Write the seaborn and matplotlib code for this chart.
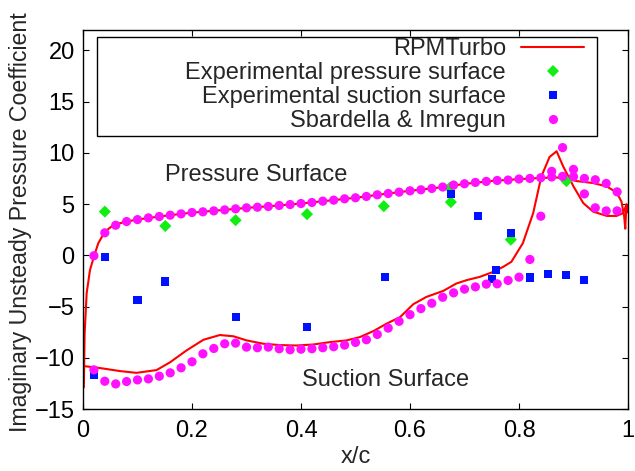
import numpy as np
import pandas as pd
import matplotlib
matplotlib.use("Agg")
import matplotlib.pyplot as plt
from matplotlib.lines import Line2D
from matplotlib.patches import Rectangle
import seaborn as sns

# RPMTurbo prediction, pressure side (leading edge -> trailing edge)
rpm_ps_x = [0.0015, 0.003, 0.0067, 0.0128, 0.020, 0.028, 0.040, 0.056, 0.080, 0.10,
            0.15, 0.20, 0.25, 0.30, 0.35, 0.40, 0.45, 0.50, 0.55, 0.60, 0.65, 0.70,
            0.75, 0.80, 0.84, 0.87, 0.89, 0.906, 0.936, 0.961, 0.979, 0.988, 0.993,
            0.995, 0.997, 1.0]
rpm_ps_y = [-12.9, -7.6, -3.7, -1.44, -0.13, 1.18, 2.3, 2.97, 3.3, 3.5,
            3.86, 4.17, 4.4, 4.63, 4.83, 5.06, 5.34, 5.62, 5.97, 6.3, 6.6, 6.97,
            7.26, 7.44, 7.56, 7.6, 7.45, 7.25, 7.06, 6.73, 6.14, 5.25, 3.79,
            2.6, 5.0, 4.2]

# RPMTurbo prediction, suction side
rpm_ss_x = [0.0, 0.031, 0.068, 0.098, 0.135, 0.160, 0.190, 0.221, 0.251, 0.276,
            0.300, 0.331, 0.361, 0.392, 0.423, 0.453, 0.484, 0.508, 0.533, 0.557,
            0.582, 0.606, 0.630, 0.661, 0.685, 0.704, 0.728, 0.753, 0.771, 0.786,
            0.807, 0.826, 0.841, 0.856, 0.869, 0.881, 0.900, 0.918, 0.936, 0.961,
            0.979, 0.991, 0.997, 1.0]
rpm_ss_y = [-10.8, -11.0, -11.3, -11.47, -11.2, -10.43, -9.28, -8.24, -7.78, -7.9,
            -8.3, -8.63, -8.76, -8.8, -8.7, -8.47, -8.3, -7.98, -7.39, -6.67,
            -6.02, -4.77, -4.06, -3.47, -2.75, -2.42, -2.1, -1.61, -1.12, -0.63,
            1.18, 4.12, 7.7, 9.6, 10.16, 8.69, 6.73, 5.1, 4.27, 3.85,
            3.85, 4.12, 4.93, 4.2]

# Experimental data
exp_ps_x = [0.040, 0.151, 0.280, 0.411, 0.552, 0.673, 0.675, 0.785, 0.887]
exp_ps_y = [4.27, 2.87, 3.43, 4.02, 4.8, 6.6, 5.2, 1.53, 7.25]

exp_ss_x = [0.020, 0.040, 0.100, 0.151, 0.280, 0.411, 0.5535, 0.675, 0.7254, 0.750,
            0.757, 0.785, 0.821, 0.854, 0.887, 0.919]
exp_ss_y = [-11.7, -0.14, -4.35, -2.55, -5.98, -6.96, -2.13, 5.98, 3.88, -2.32,
            -1.44, 2.19, -2.16, -1.8, -1.96, -2.45]

# Sbardella & Imregun reference solution (both surfaces share stations)
sb_x = [0.02, 0.04, 0.06, 0.08, 0.10, 0.12, 0.14, 0.16, 0.18, 0.20,
        0.22, 0.24, 0.26, 0.28, 0.30, 0.32, 0.34, 0.36, 0.38, 0.40,
        0.42, 0.44, 0.46, 0.48, 0.50, 0.52, 0.54, 0.56, 0.58, 0.60,
        0.62, 0.64, 0.66, 0.68, 0.70, 0.72, 0.74, 0.76, 0.78, 0.80,
        0.82, 0.84, 0.86, 0.88, 0.90, 0.92, 0.94, 0.96, 0.98]
sb_ps_y = [-0.04, 2.2, 2.94, 3.3, 3.49, 3.66, 3.79, 3.92, 4.05, 4.18,
           4.25, 4.34, 4.44, 4.54, 4.64, 4.7, 4.77, 4.87, 4.96, 5.06,
           5.16, 5.29, 5.39, 5.52, 5.62, 5.75, 5.91, 6.04, 6.17, 6.3,
           6.4, 6.53, 6.67, 6.86, 6.99, 7.12, 7.22, 7.31, 7.35, 7.45,
           7.51, 7.58, 7.65, 7.71, 7.68, 7.51, 7.38, 7.02, 6.2]
sb_ss_y = [-11.18, -12.29, -12.55, -12.32, -12.16, -12.06, -11.8, -11.47, -10.98, -10.39,
           -9.61, -9.09, -8.63, -8.57, -8.96, -9.02, -8.96, -9.12, -9.22, -9.16,
           -9.12, -9.02, -8.92, -8.76, -8.5, -8.24, -7.72, -7.1, -6.44, -5.79,
           -5.2, -4.68, -4.09, -3.66, -3.3, -3.08, -2.81, -2.78, -2.45, -2.13,
           -0.4, 3.82, 8.2, 10.52, 8.39, 6.0, 4.64, 4.34, 4.34]

legend_labels = ["RPMTurbo", "Experimental pressure surface",
                 "Experimental suction surface", "Sbardella & Imregun"]

RED, GREEN, BLUE, MAGENTA = "#ff0000", "#11ee11", "#0011ff", "#ff11ff"

sns.set_style("ticks")
plt.rcParams["font.family"] = ["Liberation Sans", "DejaVu Sans"]
FS = 17

fig = plt.figure(figsize=(6.35, 4.71), dpi=100)
ax = fig.add_axes([83 / 635, 1 - 409 / 471, 545 / 635, 379 / 471])

rpm = pd.concat([
    pd.DataFrame({"x": rpm_ps_x, "y": rpm_ps_y, "side": "ps"}),
    pd.DataFrame({"x": rpm_ss_x, "y": rpm_ss_y, "side": "ss"}),
])
sns.lineplot(data=rpm, x="x", y="y", units="side", estimator=None, sort=False,
             color=RED, linewidth=1.5, ax=ax, zorder=2)

sns.scatterplot(x=exp_ps_x, y=exp_ps_y, marker="D", s=38, color=GREEN,
                edgecolor="none", linewidth=0, ax=ax, zorder=3)
sns.scatterplot(x=exp_ss_x, y=exp_ss_y, marker="s", s=34, color=BLUE,
                edgecolor="none", linewidth=0, ax=ax, zorder=4)
sns.scatterplot(x=sb_x + sb_x, y=sb_ps_y + sb_ss_y, marker="o", s=44, color=MAGENTA,
                edgecolor="none", linewidth=0, ax=ax, zorder=5)

ax.set_xlim(0, 1)
ax.set_ylim(-15, 22)
ax.set_xticks([0, 0.2, 0.4, 0.6, 0.8, 1.0])
ax.set_xticklabels(["0", "0.2", "0.4", "0.6", "0.8", "1"])
ax.set_yticks([-15, -10, -5, 0, 5, 10, 15, 20])
ax.tick_params(axis="both", direction="in", length=4.5, width=0.8, labelsize=FS,
               top=True, right=True, colors="black")
ax.tick_params(axis="x", pad=8.0)
ax.tick_params(axis="y", pad=6.0)
for sp in ax.spines.values():
    sp.set_visible(True)
    sp.set_linewidth(1.0)
    sp.set_color("black")

ax.set_xlabel("x/c", fontsize=FS, labelpad=3)
ax.set_ylabel("Imaginary Unsteady Pressure Coefficient", fontsize=16.7)
ax.yaxis.set_label_coords(-0.093, 0.494)

ax.text(0.150, 7.28, "Pressure Surface", fontsize=FS, ha="left", va="baseline")
ax.text(0.401, -12.72, "Suction Surface", fontsize=FS, ha="left", va="baseline")

handles = [
    Line2D([], [], color=RED, linewidth=1.5),
    Line2D([], [], linestyle="none", marker="D", markersize=6, color=GREEN,
           markeredgewidth=0),
    Line2D([], [], linestyle="none", marker="s", markersize=5.8, color=BLUE,
           markeredgewidth=0),
    Line2D([], [], linestyle="none", marker="o", markersize=6.6, color=MAGENTA,
           markeredgewidth=0),
]
leg = ax.legend(handles, legend_labels, loc="upper right",
                bbox_to_anchor=((584 - 83) / 545, (409 - 38) / 379),
                frameon=False, markerfirst=False, fontsize=FS,
                handlelength=2.65, handletextpad=0.65, labelspacing=0.09,
                borderpad=0, borderaxespad=0)
leg.set_zorder(6)
ax.add_patch(Rectangle(((97 - 83) / 545, (409 - 136) / 379), (597 - 97) / 545,
                       (136 - 37) / 379, transform=ax.transAxes, fill=False,
                       edgecolor="black", linewidth=1.0, zorder=6))

fig.savefig("out.png", dpi=100)
